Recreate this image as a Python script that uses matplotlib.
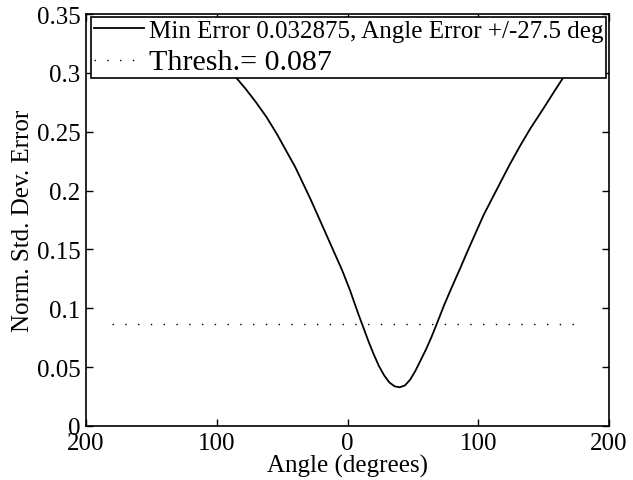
import matplotlib
matplotlib.use('Agg')
import matplotlib.pyplot as plt

# angle sweep (deg) and normalised std-dev error read per angle
angle = [-95, -86, -78, -70, -62, -54, -46, -40, -34, -28, -22, -16, -10, -4,
         2, 8, 12, 16, 20, 24, 28, 32, 36, 40, 44, 48, 52, 56, 60, 64, 68, 74,
         80, 86, 92, 98, 104, 110, 117, 124, 132, 140, 150, 158, 165, 172]
err = [0.306, 0.297, 0.2865, 0.275, 0.2625, 0.248, 0.232, 0.220, 0.206, 0.192,
       0.177, 0.162, 0.147, 0.132, 0.115, 0.096, 0.084, 0.072, 0.061, 0.051,
       0.043, 0.037, 0.0337, 0.032875, 0.0345, 0.0395, 0.047, 0.056, 0.065,
       0.075, 0.086, 0.103, 0.1185, 0.1335, 0.149, 0.164, 0.179, 0.192, 0.207,
       0.222, 0.238, 0.253, 0.270, 0.284, 0.296, 0.307]

thresh = 0.087
thresh_x = [-180, 181]
min_err = 0.032875
angle_err = 27.5

xticks = [-200, -100, 0, 100, 200]
xtick_labels = ['200', '100', '0', '100', '200']
yticks = [0, 0.05, 0.1, 0.15, 0.2, 0.25, 0.3, 0.35]
ytick_labels = ['0', '0.05', '0.1', '0.15', '0.2', '0.25', '0.3', '0.35']

plt.rcParams['font.family'] = ['Liberation Serif', 'DejaVu Serif']

fig = plt.figure(figsize=(6.33, 4.81), dpi=100)
ax = fig.add_axes([0.1359, 0.1123, 0.8262, 0.8565])

l1, = ax.plot(angle, err, color='k', lw=1.3)
l2, = ax.plot(thresh_x, [thresh, thresh], color='k', lw=1.0,
              linestyle=(0, (1, 8.2)))

ax.set_xlim(-200, 200)
ax.set_ylim(0, 0.35)
ax.set_xticks(xticks)
ax.set_xticklabels(xtick_labels)
ax.set_yticks(yticks)
ax.set_yticklabels(ytick_labels)
ax.tick_params(direction='in', top=True, right=True, length=5, width=1,
               labelsize=18, pad=4)
for s in ax.spines.values():
    s.set_linewidth(1.2)

ax.set_xlabel('Angle (degrees)', fontsize=18, labelpad=0)
ax.set_ylabel('Norm. Std. Dev. Error', fontsize=18, labelpad=2)

leg = ax.legend([l1, l2],
                ['Min Error %g, Angle Error +/-%.1f deg' % (min_err, angle_err),
                 'Thresh.= %.3f' % thresh],
                loc='upper left', bbox_to_anchor=(0.0096, 0.9927),
                borderaxespad=0, fontsize=18.0, handlelength=2.0,
                handletextpad=0.2, borderpad=0.1, labelspacing=0.28,
                fancybox=False, framealpha=1, edgecolor='k')
leg.get_frame().set_linewidth(1.2)
leg.get_texts()[1].set_fontsize(21.6)

fig.savefig('out.png', dpi=100)
